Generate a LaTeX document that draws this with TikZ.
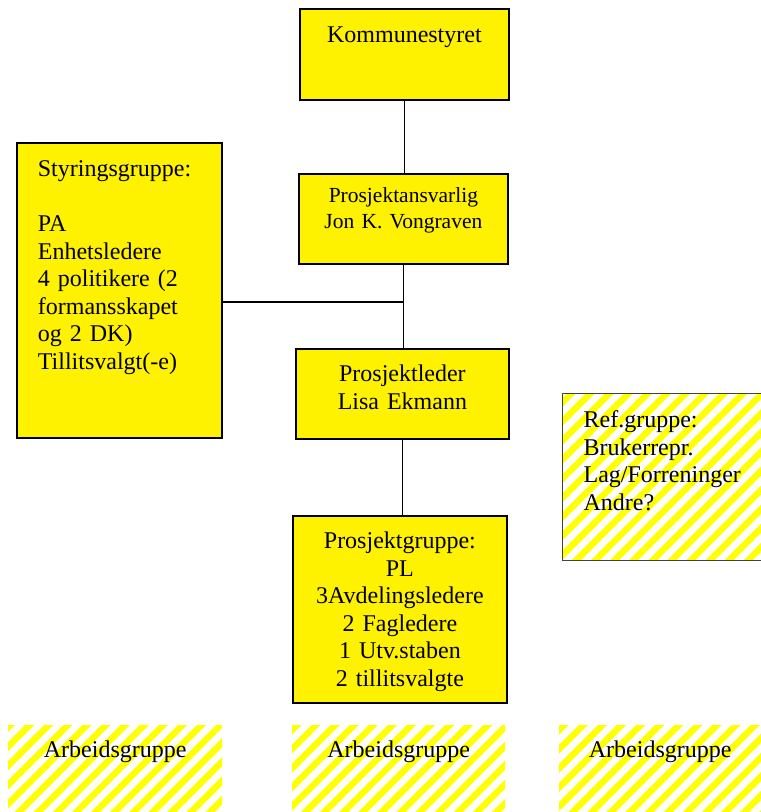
\documentclass[tikz,border=0pt]{standalone}
\usepackage{fontspec}
\setmainfont{Liberation Serif}
\usepackage{tikz}
\usetikzlibrary{positioning,calc,patterns.meta}
\newcommand{\normfnt}{\fontsize{21.5}{26}\selectfont}
\newcommand{\bigfnt}{\fontsize{24}{27.5}\selectfont}

\begin{document}
\begin{tikzpicture}[x=1pt,y=-1pt,
				box/.style={draw=black,line width=1.8pt,fill=yellow,anchor=north west,
					inner ysep=0pt,inner xsep=21pt,font=\bigfnt,text height=33pt},
				hatch/.style={pattern={Lines[angle=45,distance=13.5pt,line width=6.5pt]},
					pattern color=yellow,anchor=north west,inner ysep=0pt,inner xsep=21pt,
					font=\bigfnt,text height=32pt},
				link/.style={line width=1.8pt}]
				\useasboundingbox (0,0) rectangle (761,812);
				\node[box,text width=167pt,align=center,text height=34pt,text depth=57pt] (komm) at (299,8) {Kommunestyret};
				\node[box,font=\normfnt,text width=167pt,align=center,text height=29pt,text depth=61pt] (pa) at (298,173) {Prosjektansvarlig\\Jon K. Vongraven};
				\node[box,text width=171pt,align=center,text depth=57pt] (pl) at (295,348) {Prosjektleder\\Lisa Ekmann};
				\node[box,text width=172pt,align=center,text depth=154pt] (pg) at (292,515)
					{Prosjektgruppe:\\PL\\3Avdelingsledere\\2 Fagledere\\1 Utv.staben\\2 tillitsvalgte};
				\node[box,text width=163pt,align=left,text height=34pt,text depth=261pt] (styr) at (16,142)
					{Styringsgruppe:\\[27.5pt]PA\\Enhetsledere\\4 politikere (2\\formansskapet\\og 2 DK)\\Tillitsvalgt(-e)};
				\node[hatch,draw=black!75,line width=1.2pt,text width=170pt,align=left,text height=34pt,text depth=133pt] (ref) at (562,393)
					{Ref.gruppe:\\Brukerrepr.\\Lag/Forreninger\\Andre?};
				\node[hatch,text width=172pt,align=center,text depth=60pt] (arb1) at (8,725) {Arbeidsgruppe};
				\node[hatch,text width=171pt,align=center,text depth=60pt] (arb2) at (292,725) {Arbeidsgruppe};
				\node[hatch,text width=160pt,align=center,text depth=60pt] (arb3) at (559,725) {Arbeidsgruppe};
				
				\coordinate (join) at ($(pa.south)!0.45!(pl.north)$);
				\draw[link] (komm.south) -- (komm.south |- pa.north);
				\draw[link] (pa.south) -- (pa.south |- pl.north);
				\draw[link] (styr.east |- join) -- (join);
				\draw[link] (pl.south) -- (pl.south |- pg.north);
			\end{tikzpicture}
\end{document}
